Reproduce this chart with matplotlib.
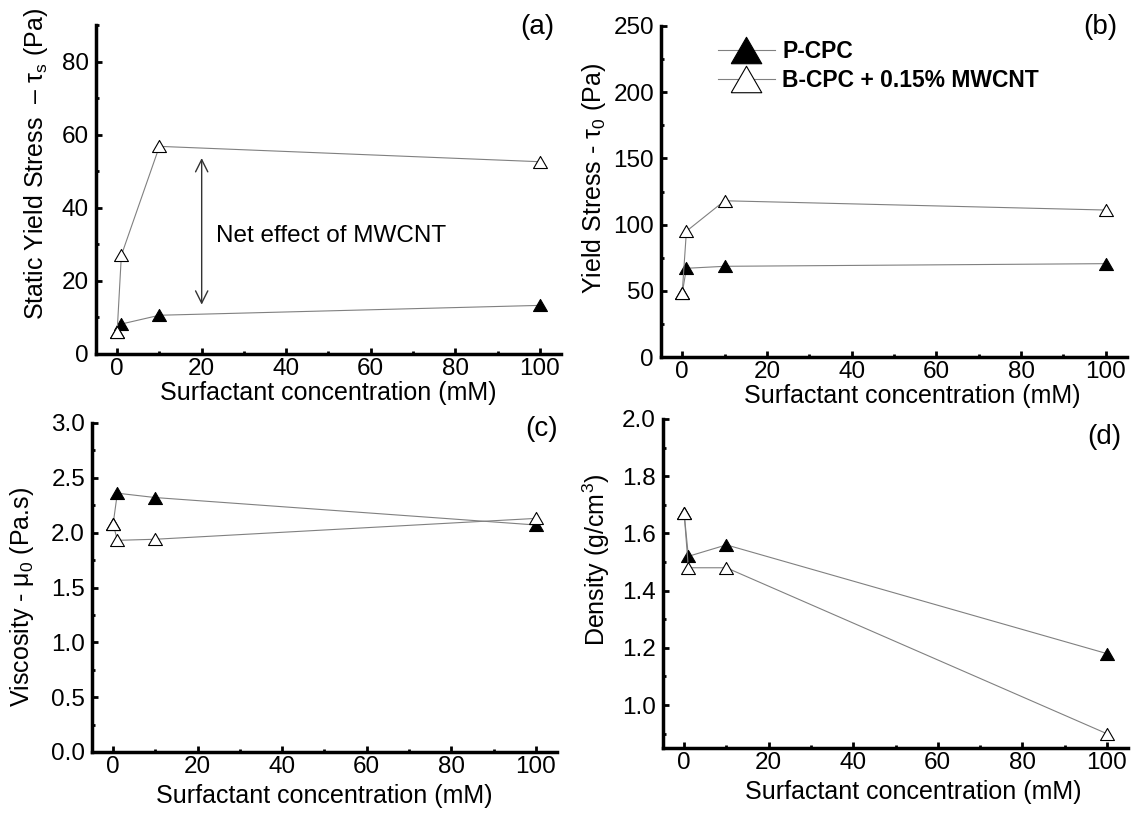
import matplotlib
matplotlib.use("Agg")
import matplotlib.pyplot as plt
from matplotlib.ticker import MultipleLocator, FormatStrFormatter

plt.rcParams['font.family'] = ['Liberation Sans', 'DejaVu Sans']
plt.rcParams['mathtext.default'] = 'regular'
plt.rcParams['mathtext.fontset'] = 'custom'
plt.rcParams['mathtext.rm'] = 'Liberation Sans'
plt.rcParams['mathtext.it'] = 'Liberation Sans:italic'
plt.rcParams['mathtext.bf'] = 'Liberation Sans:bold'

# Surfactant concentration (mM)
conc = [0, 1, 10, 100]

# (a) static yield stress (Pa)
static_pcpc = [6, 8.2, 10.6, 13.3]
static_bcpc = [6, 27, 56.8, 52.6]
# (b) yield stress (Pa)
yield_pcpc = [48, 67, 68.5, 70.5]
yield_bcpc = [48, 95, 118, 111]
# (c) viscosity (Pa.s)
visc_pcpc = [2.08, 2.36, 2.32, 2.07]
visc_bcpc = [2.08, 1.93, 1.94, 2.13]
# (d) density (g/cm3)
dens_pcpc = [1.67, 1.52, 1.56, 1.18]
dens_bcpc = [1.67, 1.48, 1.48, 0.90]

series_labels = ['P-CPC', 'B-CPC + 0.15% MWCNT']
xlabel = 'Surfactant concentration (mM)'

W, H = 1142, 816
fig = plt.figure(figsize=(W / 100, H / 100), dpi=100)


def rect(left, top, right, bottom):
    return [left / W, 1 - bottom / H, (right - left) / W, (bottom - top) / H]


tri = [(-1, -0.866), (1, -0.866), (0, 0.866), (-1, -0.866)]
axes = []


def panel(r, pcpc, bcpc, ylim, major, minor, ylabel, ylab_xy, xlab_x, xlab_gap,
          tag, tag_xy):
    ax = fig.add_axes(rect(*r))
    l1, = ax.plot(conc, pcpc, color='#808080', lw=0.8, marker=tri, ms=10,
                  mfc='black', mec='black', mew=0.8, zorder=3)
    l2, = ax.plot(conc, bcpc, color='#808080', lw=0.8, marker=tri, ms=10,
                  mfc='white', mec='black', mew=0.8, zorder=4)
    ax.set_xlim(-5, 105)
    ax.set_ylim(*ylim)
    ax.xaxis.set_major_locator(MultipleLocator(20))
    ax.xaxis.set_minor_locator(MultipleLocator(10))
    ax.yaxis.set_major_locator(MultipleLocator(major))
    ax.yaxis.set_minor_locator(MultipleLocator(minor))
    for s in ('top', 'right'):
        ax.spines[s].set_visible(False)
    for s in ('left', 'bottom'):
        ax.spines[s].set_linewidth(2.5)
    ax.tick_params(which='major', direction='in', length=4, width=2,
                   labelsize=17.5)
    ax.tick_params(axis='x', which='major', pad=3)
    ax.tick_params(axis='y', which='major', pad=5)
    ax.tick_params(which='minor', direction='in', length=2.5, width=2)
    ax.set_ylabel(ylabel, fontsize=18)
    ax.yaxis.set_label_coords(*ylab_xy)
    ax.set_xlabel(xlabel, fontsize=18, va='top')
    ax.text(tag_xy[0], tag_xy[1], tag, transform=ax.transAxes, fontsize=20,
            ha='center', va='center')
    axes.append((ax, xlab_x, xlab_gap))
    return ax, l1, l2


ax_a, _, _ = panel((96, 25, 561, 354), static_pcpc, static_bcpc, (0, 90), 20, 10,
                   'Static Yield Stress  – τ$_{s}$ (Pa)', (-0.099, 0.578),
                   0.5, 1, '(a)', (0.948, 0.994))
ax_b, h1, h2 = panel((661, 26, 1127, 357), yield_pcpc, yield_bcpc, (0, 250), 50, 25,
                     'Yield Stress - τ$_{0}$ (Pa)', (-0.114, 0.538),
                     0.539, 1, '(b)', (0.942, 0.997))
ax_c, _, _ = panel((92, 423, 557, 752), visc_pcpc, visc_bcpc, (0, 3.0), 0.5, 0.25,
                   'Viscosity - μ$_{0}$ (Pa.s)', (-0.12, 0.471),
                   0.5, 6, '(c)', (0.966, 0.982))
ax_d, _, _ = panel((663, 419, 1128, 748), dens_pcpc, dens_bcpc, (0.85, 2.0), 0.2, 0.1,
                   'Density (g/cm$^{3}$)', (-0.11, 0.571),
                   0.539, 6, '(d)', (0.95, 0.945))
ax_c.yaxis.set_major_formatter(FormatStrFormatter('%.1f'))
ax_d.yaxis.set_major_formatter(FormatStrFormatter('%.1f'))

# Double arrow marking the gap between the two mixes
ax_a.annotate('', xy=(20, 53.6), xytext=(20, 13.5),
              arrowprops=dict(arrowstyle='<->', lw=1.0, color='#333333',
                              mutation_scale=22, shrinkA=0, shrinkB=0))
ax_a.text(23.4, 32.2, 'Net effect of MWCNT', fontsize=17.5, ha='left', va='center')

ax_b.legend([h1, h2], series_labels, loc='center left', bbox_to_anchor=(0.122, 0.879),
            frameon=False, prop=dict(weight='bold', size=16.5), handlelength=2.5,
            handletextpad=0.3, markerscale=2.2, borderpad=0, borderaxespad=0,
            labelspacing=0.25)

# Put each x-axis title under its tick labels
fig.canvas.draw()
renderer = fig.canvas.get_renderer()
for ax, xl, gap in axes:
    bottom = min(t.get_window_extent(renderer).y0
                 for t in ax.get_xticklabels() if t.get_text())
    y_ax = ax.transAxes.inverted().transform((0, bottom - gap))[1]
    ax.xaxis.set_label_coords(xl, y_ax)

fig.savefig('out.png', dpi=100)
